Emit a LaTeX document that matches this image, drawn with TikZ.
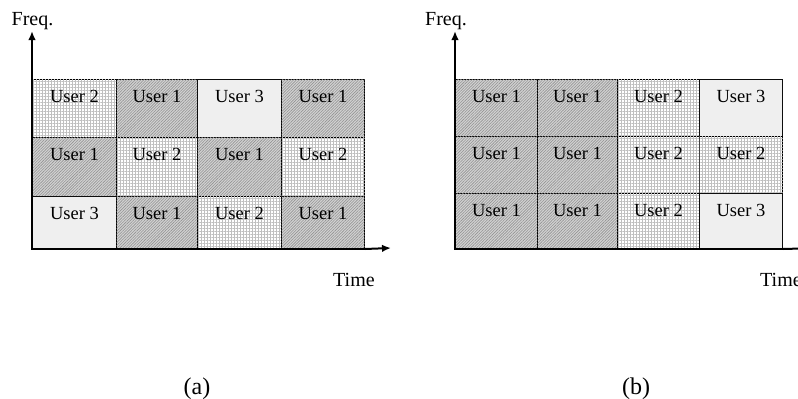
\documentclass[tikz,border=0pt]{standalone}
\usepackage{fontspec}
\setmainfont{Liberation Serif}
\usetikzlibrary{patterns.meta,arrows.meta}
\tikzset{
  cellbase/.style={draw=black, line width=1pt, anchor=north west, inner sep=0pt},
  u1/.style={cellbase, fill=gray!35, postaction={pattern={Lines[angle=45,distance=2pt,line width=0.6pt]}, pattern color=gray!85}},
  u2/.style={cellbase, fill=white, postaction={pattern={Hatch[angle=0,distance=3pt,line width=0.7pt]}, pattern color=gray!50}},
  u3/.style={cellbase, fill=gray!6, postaction={pattern={Dots[distance=2pt,radius=0.4pt]}, pattern color=gray!75}},
  utext/.style={font=\fontsize{18.5}{18.5}\selectfont, inner sep=0pt},
  axlabel/.style={font=\fontsize{20}{20}\selectfont, inner sep=0pt},
  caption/.style={font=\fontsize{24}{24}\selectfont, inner sep=0pt, anchor=base},
  axis/.style={line width=2pt, -{Latex[length=9pt,width=7.5pt]}}
}
\begin{document}
\begin{tikzpicture}[x=1pt,y=-1pt]
\useasboundingbox (0,0) rectangle (798,399);
\foreach \n/\x/\y/\w/\h/\u in {
  a11/32/79/84/58/2, a12/116/79/81/58/1, a13/197/79/84/58/3, a14/281/79/83/58/1,
  a21/32/137/84/59/1, a22/116/137/81/59/2, a23/197/137/84/59/1, a24/281/137/83/59/2,
  a31/32/196/84/52/3, a32/116/196/81/52/1, a33/197/196/84/52/2, a34/281/196/83/52/1,
  b11/455/79/82/57/1, b12/537/79/80/57/1, b13/617/79/82/57/2, b14/699/79/83/57/3,
  b21/455/136/82/57/1, b22/537/136/80/57/1, b23/617/136/82/57/2, b24/699/136/83/57/2,
  b31/455/193/82/55/1, b32/537/193/80/55/1, b33/617/193/82/55/2, b34/699/193/83/55/3}{
  \node[u\u, minimum width=\w pt, minimum height=\h pt] (\n) at (\x,\y) {};
  \node[utext] (\n t) at ([yshift=-17pt]\n.north) {User \u};
}
% axes (a)
\coordinate (aorig) at (a31.south west);
\coordinate (ayend) at (32,31);
\coordinate (axend) at (391,248);
\draw[line width=2pt] (a11.north west) -- (aorig) -- (a34.south east);
\draw[axis] (a11.north west) -- (ayend);
\draw[axis] (a34.south east) -- (axend);
\node[axlabel, anchor=base] (afreq) at (32.5,25.5) {Freq.};
\node[axlabel, anchor=base west] (atime) at (333,286) {Time};
% axes (b)
\coordinate (borig) at (b31.south west);
\coordinate (byend) at (455,31);
\coordinate (bxend) at (820,248);
\draw[line width=2pt] (b11.north west) -- (borig) -- (b34.south east);
\draw[axis] (b11.north west) -- (byend);
\draw[axis] (b34.south east) -- (bxend);
\node[axlabel, anchor=base] (bfreq) at (446,25.5) {Freq.};
\node[axlabel, anchor=base west] (btime) at (760,286) {Time};
% captions
\node[caption] (capa) at (197,394) {(a)};
\node[caption] (capb) at (636,394) {(b)};
\end{tikzpicture}
\end{document}
